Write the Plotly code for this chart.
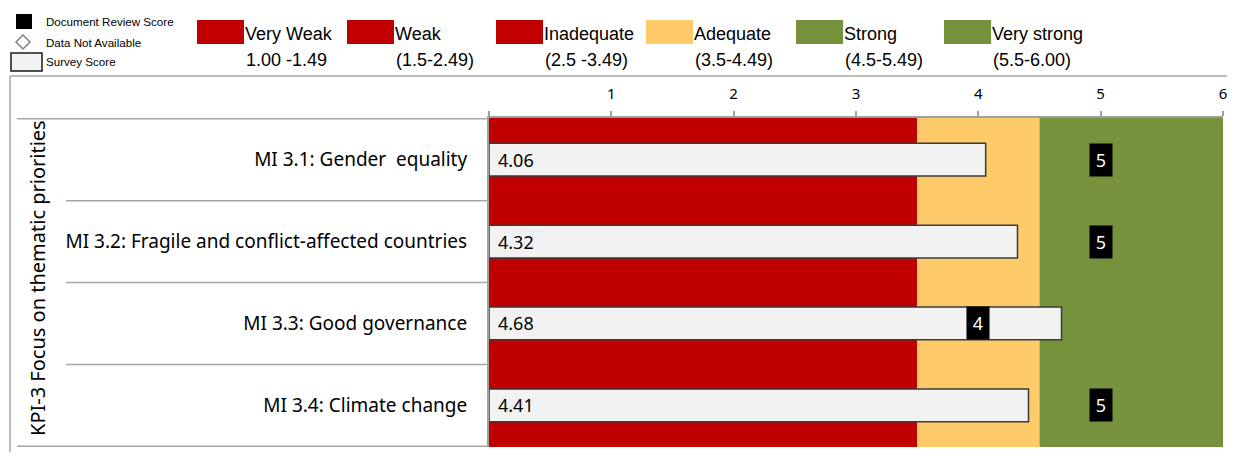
import plotly.graph_objects as go

# ---------------- data ----------------
categories = [
    "MI 3.1: Gender  equality",
    "MI 3.2: Fragile and conflict-affected countries",
    "MI 3.3: Good governance",
    "MI 3.4: Climate change",
]
survey_scores = [4.06, 4.32, 4.68, 4.41]
document_scores = [5, 5, 4, 5]
group_title = "KPI-3 Focus on thematic priorities"

band_edges = [0, 3.5, 4.5, 6]
band_colors = ["#c00000", "#ffcb69", "#76923c"]

rating_names = ["Very Weak", "Weak", "Inadequate", "Adequate", "Strong", "Very strong"]
rating_ranges = ["1.00 -1.49", "(1.5-2.49)", "(2.5 -3.49)", "(3.5-4.49)", "(4.5-5.49)", "(5.5-6.00)"]
rating_colors = ["#c00000", "#c00000", "#c00000", "#ffcb69", "#76923c", "#76923c"]

x_ticks = [0, 1, 2, 3, 4, 5, 6]
x_tick_text = ["", "1", "2", "3", "4", "5", "6"]

# ---------------- geometry helpers ----------------
OFF = 8  # default page body margin
W, H = 1236 - 2 * OFF, 461 - 2 * OFF
ML, MT = 489 - OFF, 118 - OFF
MR = W - (1223 - OFF)
MB = H - (447 - OFF)
PW, PH = W - ML - MR, H - MT - MB


def px(x):
    return (x - OFF - ML) / PW


def py(y):
    return (H - MB - (y - OFF)) / PH


CAL = "Noto Sans"
ARI = "Liberation Sans"

fig = go.Figure()

fig.add_trace(go.Bar(
    x=survey_scores, y=categories, orientation="h", width=0.4,
    marker=dict(color="#f2f2f2", line=dict(color="#3a3a3a", width=1.5)),
    hoverinfo="skip", showlegend=False,
))

shapes = []
# performance bands
for i, c in enumerate(band_colors):
    shapes.append(dict(type="rect", xref="x", yref="paper", x0=band_edges[i], x1=band_edges[i + 1],
                       y0=0, y1=1, fillcolor=c, line=dict(width=0), layer="below"))

# row separators on the left
n = len(categories)
for k in range(n + 1):
    left = 17 if k in (0, n) else 66
    shapes.append(dict(type="line", xref="paper", yref="y", x0=px(left), x1=0,
                       y0=k - 0.5, y1=k - 0.5, line=dict(color="#a6a6a6", width=1.5)))

# outer frame
shapes.append(dict(type="line", xref="paper", yref="paper", x0=px(10), x1=px(1227),
                   y0=py(76), y1=py(76), line=dict(color="#a6a6a6", width=1.5)))
shapes.append(dict(type="line", xref="paper", yref="paper", x0=px(10), x1=px(10),
                   y0=py(76), y1=py(452), line=dict(color="#a6a6a6", width=1.5)))

# symbol legend
shapes.append(dict(type="rect", xref="paper", yref="paper", x0=px(16), x1=px(32),
                   y0=py(14), y1=py(29), fillcolor="#000000", line=dict(width=0)))
dx, dy, cx, cy = 7, 7, 23, 42
shapes.append(dict(type="path", xref="paper", yref="paper",
                   path=f"M {px(cx-dx)} {py(cy)} L {px(cx)} {py(cy-dy)} L {px(cx+dx)} {py(cy)} L {px(cx)} {py(cy+dy)} Z",
                   fillcolor="#ffffff", line=dict(color="#808080", width=1.5)))
shapes.append(dict(type="rect", xref="paper", yref="paper", x0=px(11), x1=px(42),
                   y0=py(53), y1=py(71), fillcolor="#f2f2f2", line=dict(color="#1a1a1a", width=1.5)))

annotations = []
for text, yy in [("Document Review Score", 22), ("Data Not Available", 43), ("Survey Score", 62)]:
    annotations.append(dict(text=text, xref="paper", yref="paper", x=px(44), y=py(yy),
                            xanchor="left", yanchor="middle", showarrow=False,
                            font=dict(family=ARI, size=11.6, color="#000000")))

# rating legend
rect_left = [197, 347, 496, 646, 796, 944]
for i, name in enumerate(rating_names):
    x0 = rect_left[i]
    shapes.append(dict(type="rect", xref="paper", yref="paper", x0=px(x0), x1=px(x0 + 47),
                       y0=py(20), y1=py(44), fillcolor=rating_colors[i], line=dict(width=0)))
    annotations.append(dict(text=name, xref="paper", yref="paper", x=px(x0 + 46), y=py(34),
                            xanchor="left", yanchor="middle", showarrow=False,
                            font=dict(family=ARI, size=18, color="#000000")))
    annotations.append(dict(text=rating_ranges[i], xref="paper", yref="paper", x=px(x0 + 47), y=py(60),
                            xanchor="left", yanchor="middle", showarrow=False,
                            font=dict(family=ARI, size=18, color="#000000")))

# survey score labels
for cat, v in zip(categories, survey_scores):
    annotations.append(dict(text=f"{v:.2f}", x=0, y=cat, xref="x", yref="y", xanchor="left",
                            yanchor="middle", xshift=7, showarrow=False,
                            font=dict(family=CAL, size=18, color="#000000")))

# document review score markers
for cat, v in zip(categories, document_scores):
    if v is None:
        continue
    annotations.append(dict(text=str(v), x=v, y=cat, xref="x", yref="y", xanchor="center",
                            yanchor="middle", showarrow=False, bgcolor="#000000",
                            width=22, height=32, borderpad=0,
                            font=dict(family=CAL, size=18, color="#ffffff")))

# group title (vertical)
annotations.append(dict(text=group_title, xref="paper", yref="paper", x=px(37), y=py(278),
                        textangle=-90, showarrow=False, xanchor="center", yanchor="middle",
                        font=dict(family=CAL, size=20, color="#000000")))

fig.update_layout(
    width=W, height=H,
    margin=dict(l=ML, r=MR, t=MT, b=MB, pad=0, autoexpand=False),
    paper_bgcolor="#ffffff", plot_bgcolor="#ffffff",
    shapes=shapes, annotations=annotations, showlegend=False, bargap=0.6,
    xaxis=dict(range=[0, 6], side="top", tickvals=x_ticks, ticktext=x_tick_text,
               showgrid=False, zeroline=False, showline=True, linecolor="#a0a0a0", linewidth=2,
               ticks="outside", ticklen=5, tickcolor="#a0a0a0", tickwidth=1.5,
               ticklabelstandoff=6, ticklabeloverflow="allow", automargin=False,
               tickfont=dict(family=CAL, size=15, color="#000000"),
               fixedrange=True),
    yaxis=dict(type="category", autorange="reversed", showgrid=False, zeroline=False,
               showline=True, linecolor="#a0a0a0", linewidth=2,
               ticks="outside", ticklen=4, tickcolor="#a0a0a0", tickson="boundaries",
               ticklabelstandoff=16, automargin=False,
               tickfont=dict(family=CAL, size=19, color="#000000"),
               fixedrange=True),
)

fig.write_html("out.html")
